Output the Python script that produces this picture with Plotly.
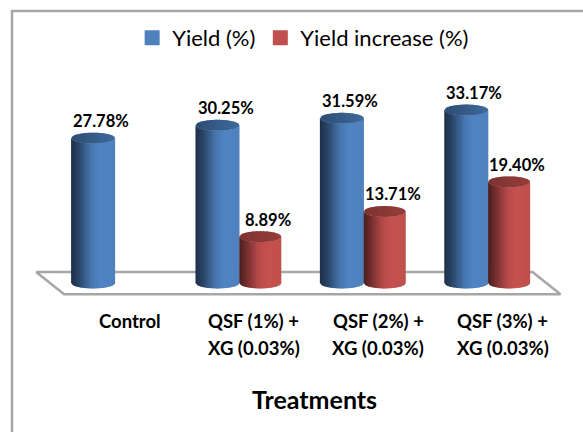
import plotly.graph_objects as go

categories = ["Control", "QSF (1%) +", "QSF (2%) +", "QSF (3%) +"]
second_line = ["", "XG (0.03%)", "XG (0.03%)", "XG (0.03%)"]
yield_pct = [27.78, 30.25, 31.59, 33.17]
yield_increase = [None, 8.89, 13.71, 19.40]
series_names = ["Yield (%)", "Yield increase (%)"]
axis_title = "Treatments"

BLUE_STOPS = [(-1.0, "#1d2f47"), (-0.6, "#2b496d"), (-0.1, "#4675ad"), (0.3, "#4f84c3"), (1.0, "#4f81bd")]
RED_STOPS = [(-1.0, "#4a1e1e"), (-0.6, "#7a3030"), (-0.1, "#b5494a"), (0.3, "#c4514f"), (1.0, "#c0504d")]
BLUE_CAP = [(-1.0, "#2d4c73"), (1.0, "#3f6b9e")]
RED_CAP = [(-1.0, "#7d3230"), (1.0, "#973e3c")]
FRAME = "#a6a6a6"
FONT = "Lato"

PX_PER_X = 124.4
PX_PER_Y = 5.216
X_RANGE = [-114.5 / PX_PER_X, (583 - 114.5) / PX_PER_X]
Y_RANGE = [-(432 - 283) / PX_PER_Y, 283 / PX_PER_Y]
ELLIPSE = 5.4 / PX_PER_Y
STRIPS = 30


def shade(stops, u):
    for (u0, c0), (u1, c1) in zip(stops, stops[1:]):
        if u <= u1:
            t = (u - u0) / (u1 - u0)
            a = [int(c0[i:i + 2], 16) for i in (1, 3, 5)]
            b = [int(c1[i:i + 2], 16) for i in (1, 3, 5)]
            return "rgb(%d,%d,%d)" % tuple(round(p + (q - p) * t) for p, q in zip(a, b))
    return stops[-1][1]


def cylinder(center, half, value, body, cap):
    """Vertical strips for the curved side, then strips for the top ellipse.

    Each strip runs on under the next one so no seams show between them.
    """
    traces = []
    step = 2 / STRIPS
    for i in range(STRIPS):
        left = -1 + i * step
        right = min(1.0, left + 1.6 * step)
        mid = left + step / 2
        sag_l = ELLIPSE * (1 - left ** 2) ** 0.5
        sag_r = ELLIPSE * max(0.0, 1 - right ** 2) ** 0.5
        xs = [center + half * left, center + half * right]
        for stops, ys in (
            (body, [value - sag_l, value - sag_r, -sag_r, -sag_l]),
            (cap, [value + sag_l, value + sag_r, value - sag_r, value - sag_l]),
        ):
            traces.append(go.Scatter(
                x=[xs[0], xs[1], xs[1], xs[0], xs[0]], y=ys + ys[:1],
                mode="lines", fill="toself", fillcolor=shade(stops, mid),
                line=dict(width=0),
                showlegend=False, hoverinfo="skip",
            ))
    return traces


fig = go.Figure()

# Floor of the chart, sitting behind the columns
fig.add_trace(go.Scatter(
    x=[-0.63, 3.36, 3.585, -0.405, -0.63],
    y=[2.1, 2.1, -2.15, -2.15, 2.1],
    mode="lines", line=dict(color=FRAME, width=2.5),
    showlegend=False, hoverinfo="skip",
))

annotations = []
for i, (a, b) in enumerate(zip(yield_pct, yield_increase)):
    for value, dx, half, body, cap in (
        (a, -0.172, 0.177, BLUE_STOPS, BLUE_CAP),
        (b, 0.172, 0.169, RED_STOPS, RED_CAP),
    ):
        if value is None:
            continue
        fig.add_traces(cylinder(i + dx, half, value, body, cap))
        annotations.append(dict(
            x=i + dx, y=value, text=f"<b>{value:.2f}%</b>", showarrow=False,
            xshift=8, yshift=17, font=dict(family=FONT, size=16.5, color="#000000"),
        ))

# Legend keys
for name, colour in zip(series_names, ("#4f81bd", "#c0504d")):
    fig.add_trace(go.Scatter(
        x=[None], y=[None], mode="markers", name=name,
        marker=dict(symbol="square", size=15, color=colour),
    ))

# Category labels set on two rows, shifted right with the chart's perspective
for i, (top, bottom) in enumerate(zip(categories, second_line)):
    annotations.append(dict(x=i, y=-7.3, text=f"<b>{top}</b>", showarrow=False, xshift=15,
                            font=dict(family=FONT, size=18.5, color="#000000")))
    if bottom:
        annotations.append(dict(x=i, y=-12.5, text=f"<b>{bottom}</b>", showarrow=False, xshift=15,
                                font=dict(family=FONT, size=18.5, color="#000000")))

annotations.append(dict(x=0.54, y=0.076, xref="paper", yref="paper", yanchor="middle",
                        text=f"<b>{axis_title}</b>", showarrow=False,
                        font=dict(family=FONT, size=25, color="#000000")))

fig.update_layout(
    width=583, height=432, margin=dict(l=0, r=0, t=0, b=0),
    paper_bgcolor="#ffffff", plot_bgcolor="#ffffff",
    xaxis=dict(range=X_RANGE, visible=False, fixedrange=True),
    yaxis=dict(range=Y_RANGE, visible=False, fixedrange=True),
    legend=dict(orientation="h", x=0.52, xanchor="center", y=0.912, yanchor="middle",
                font=dict(family=FONT, size=22, color="#000000"),
                bgcolor="rgba(0,0,0,0)", traceorder="normal"),
    annotations=annotations,
    shapes=[dict(type="path", xref="paper", yref="paper", layer="below",
                 path="M 0.0206 0 L 0.0206 0.9745 L 1.1 0.9745",
                 line=dict(color=FRAME, width=2.5))],
    showlegend=True,
)

fig.write_html("out.html")
